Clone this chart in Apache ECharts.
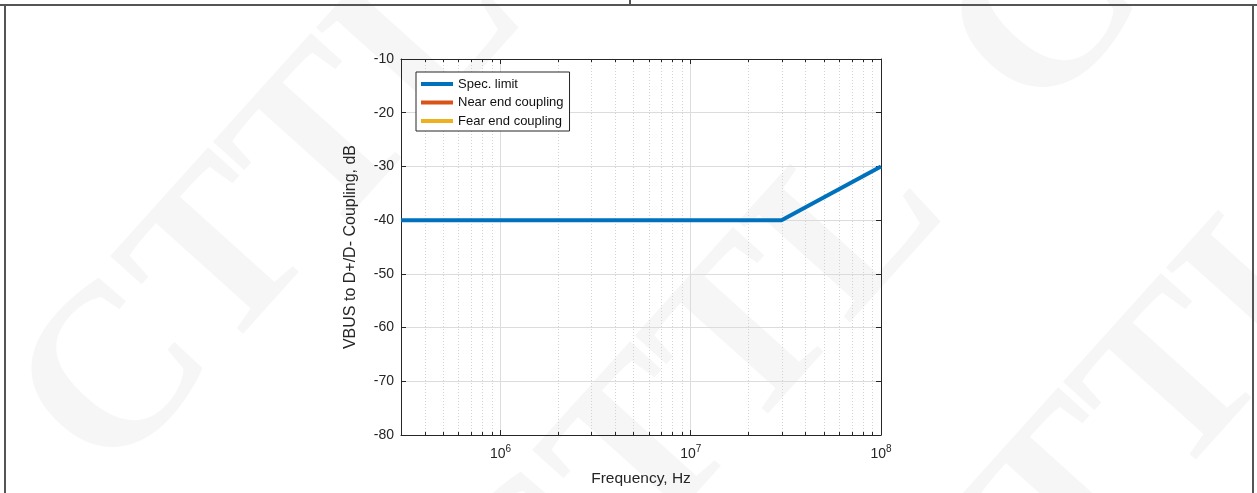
<!DOCTYPE html>
<html><head><meta charset="utf-8">
<script src="https://cdn.jsdelivr.net/npm/echarts@6/dist/echarts.min.js"></script>
<style>html,body{margin:0;padding:0;background:#fff}#chart{width:1257px;height:493px}</style>
</head><body><div id="chart"></div>
<script>
// ---- data ----
const seriesNames = ['Spec. limit', 'Near end coupling', 'Fear end coupling'];
const seriesColors = ['#0072BD', '#D95319', '#EDB120'];
const specFreqHz = [3e5, 3e7, 1e8];
const specDb = [-40, -40, -30];
const nearFreqHz = [];
const nearDb = [];
const farFreqHz = [];
const farDb = [];
const xMin = 3e5, xMax = 1e8;
const yMin = -80, yMax = -10, yStep = 10;
const xMinorTicks = [4e5, 5e5, 6e5, 7e5, 8e5, 9e5, 2e6, 3e6, 4e6, 5e6, 6e6, 7e6, 8e6, 9e6, 2e7, 3e7, 4e7, 5e7, 6e7, 7e7, 8e7, 9e7];
const xAxisName = 'Frequency, Hz';
const yAxisName = 'VBUS to D+/D- Coupling, dB';
const watermarkText = 'CTTL';

const zip = (a, b) => a.map((v, i) => [v, b[i]]);
const txt = '#262626';
const font = '"Liberation Sans", Arial, sans-serif';

const chart = echarts.init(document.getElementById('chart'), null, {renderer: 'canvas'});

const wm = [[150, 520], [572, 714], [1080, 160], [1000, 760]].map(p => ({
  type: 'text', x: p[0], y: p[1], rotation: 48 * Math.PI / 180, z: -10, silent: true,
  style: {text: watermarkText, font: 'bold 230px "Liberation Serif", "DejaVu Serif", serif', fill: '#f6f6f6', textAlign: 'left', textVerticalAlign: 'bottom'}
}));
const frame = [
  [0, 5, 1257, 5], [5, 5, 5, 493], [1253, 5, 1253, 493], [630, 0, 630, 5]
].map(s => ({type: 'line', z: 100, silent: true, shape: {x1: s[0], y1: s[1], x2: s[2], y2: s[3]}, style: {stroke: '#555', lineWidth: 2}}));

const logLabel = v => {
  const e = Math.log10(v), r = Math.round(e);
  if (Math.abs(e - r) > 1e-6) return '';
  return '{b|10}{s|' + r + '}';
};

const option = {
  animation: false,
  backgroundColor: '#fff',
  graphic: {elements: wm.concat(frame)},
  grid: {left: 401, top: 59, width: 480, height: 376, containLabel: false},
  legend: {
    data: seriesNames, left: 416, top: 72, orient: 'vertical',
    icon: 'rect', itemWidth: 32, itemHeight: 4, itemGap: 4.5,
    padding: [5, 6, 3, 5], backgroundColor: '#fff', borderColor: txt, borderWidth: 1,
    textStyle: {fontFamily: font, fontSize: 13, color: '#111', lineHeight: 14},
    selectedMode: false
  },
  xAxis: [{
    type: 'log', logBase: 10, min: xMin, max: xMax, position: 'bottom',
    name: xAxisName, nameLocation: 'middle', nameGap: 36,
    nameTextStyle: {fontFamily: font, fontSize: 15.5, color: txt},
    axisLine: {show: true, onZero: false, lineStyle: {color: txt, width: 1}},
    axisTick: {show: true, inside: true, length: 5, lineStyle: {color: txt}},
    axisLabel: {show: true, margin: 11, formatter: logLabel, color: txt, fontFamily: font, fontSize: 14,
      rich: {b: {fontFamily: font, fontSize: 14, lineHeight: 16, color: txt},
             s: {fontFamily: font, fontSize: 10, lineHeight: 11, padding: [0, 0, 9, 0], color: txt}}},
    splitLine: {show: true, lineStyle: {color: '#dcdcdc', width: 1}},
    minorTick: {show: false}, minorSplitLine: {show: false}
  }, {
    type: 'log', logBase: 10, min: xMin, max: xMax, position: 'top',
    axisLine: {show: true, onZero: false, lineStyle: {color: txt, width: 1}},
    axisTick: {show: true, inside: true, length: 5, lineStyle: {color: txt}},
    axisLabel: {show: false}, splitLine: {show: false}
  }],
  yAxis: [{
    type: 'value', min: yMin, max: yMax, interval: yStep, position: 'left',
    name: yAxisName, nameLocation: 'middle', nameGap: 42,
    nameTextStyle: {fontFamily: font, fontSize: 16, color: txt},
    axisLine: {show: true, lineStyle: {color: txt, width: 1}},
    axisTick: {show: true, inside: true, length: 5, lineStyle: {color: txt}},
    axisLabel: {fontFamily: font, fontSize: 14, color: txt, margin: 7},
    splitLine: {show: true, lineStyle: {color: '#dcdcdc', width: 1}}
  }, {
    type: 'value', min: yMin, max: yMax, interval: yStep, position: 'right',
    axisLine: {show: true, lineStyle: {color: txt, width: 1}},
    axisTick: {show: true, inside: true, length: 5, lineStyle: {color: txt}},
    axisLabel: {show: false}, splitLine: {show: false}
  }],
  series: [{
    type: 'custom', name: '_minor', silent: true, z: 1, xAxisIndex: 0, yAxisIndex: 0,
    data: xMinorTicks.map(v => [v, yMin]), encode: {x: 0, y: 1},
    renderItem: (params, api) => {
      const p0 = api.coord([api.value(0), yMin]);
      const p1 = api.coord([api.value(0), yMax]);
      const x = Math.round(p0[0]) + 0.5;
      return {type: 'group', children: [
        {type: 'line', shape: {x1: x, y1: p1[1], x2: x, y2: p0[1]}, style: {stroke: '#d2d2d2', lineWidth: 1, lineDash: [1, 2]}},
        {type: 'line', shape: {x1: x, y1: p0[1], x2: x, y2: p0[1] - 3}, style: {stroke: txt, lineWidth: 1}},
        {type: 'line', shape: {x1: x, y1: p1[1], x2: x, y2: p1[1] + 3}, style: {stroke: txt, lineWidth: 1}}
      ]};
    }
  }, {
    type: 'line', name: seriesNames[0], data: zip(specFreqHz, specDb), showSymbol: false, z: 3,
    color: seriesColors[0], lineStyle: {color: seriesColors[0], width: 4}, clip: true
  }, {
    type: 'line', name: seriesNames[1], data: zip(nearFreqHz, nearDb), showSymbol: false, z: 3,
    color: seriesColors[1], lineStyle: {color: seriesColors[1], width: 4}
  }, {
    type: 'line', name: seriesNames[2], data: zip(farFreqHz, farDb), showSymbol: false, z: 3,
    color: seriesColors[2], lineStyle: {color: seriesColors[2], width: 4}
  }]
};
chart.setOption(option);
</script></body></html>
